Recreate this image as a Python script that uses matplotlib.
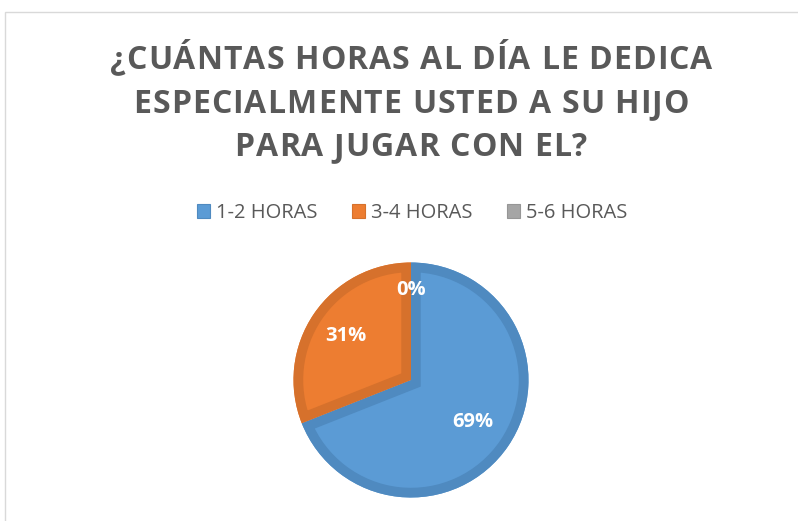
import numpy as np
import matplotlib

matplotlib.use('Agg')
import matplotlib.pyplot as plt
from matplotlib.patches import Patch, Rectangle
from matplotlib.font_manager import FontProperties, findfont, get_font

categories = ['1-2 HORAS', '3-4 HORAS', '5-6 HORAS']
values = [69, 31, 0]
fills = ['#5B9BD5', '#ED7D31', '#A5A5A5']
edges = ['#4F8AC0', '#D6712C', '#969696']
title_lines = ['¿CUÁNTAS HORAS AL DÍA LE DEDICA', 'ESPECIALMENTE USTED A SU HIJO', 'PARA JUGAR CON EL?']

W, H = 798, 521
fig = plt.figure(figsize=(W / 100, H / 100), dpi=100)
fig.patch.set_facecolor('white')

# marco gris del gráfico
fig.add_artist(Rectangle((5 / W, -0.05), 1.0, 1 - 12 / H + 0.05, transform=fig.transFigure,
                         fill=False, edgecolor='#D9D9D9', linewidth=1))

cx, cy = 411, H - 380
ax = fig.add_axes([(cx - 130) / W, (cy - 130) / H, 260 / W, 260 / H])

R = 1.175
shown = [v for v in values if v > 0]
fill_w, _ = ax.pie(shown, colors=fills[:len(shown)], startangle=90, counterclock=False,
                   radius=R, wedgeprops=dict(linewidth=0))
edge_w, _ = ax.pie(shown, colors=['none'] * len(shown), startangle=90, counterclock=False,
                   radius=R, wedgeprops=dict(linewidth=14, fill=False))
# borde interior, recortado a cada sector
for fw, ew, ec in zip(fill_w, edge_w, edges):
    ew.set_edgecolor(ec)
    ew.set_clip_on(True)
    ew.set_clip_path(fw)
ax.set_xlim(-1.3, 1.3)
ax.set_ylim(-1.3, 1.3)
ax.axis('off')

# etiquetas de porcentaje
total = sum(values)
start = 90.0
dists = [0.64, 0.67, 0.77]
for v, d in zip(values, dists):
    span = 360.0 * v / total
    mid = np.deg2rad(start - span / 2)
    ax.text(d * R * np.cos(mid), d * R * np.sin(mid), f'{v}%', ha='center', va='center',
            color='white', fontsize=14.5, fontweight='bold', family='Open Sans')
    start -= span

# título con espaciado entre letras (como en Excel)
TSIZE = 23
tprop = FontProperties(family='Open Sans', weight='bold', size=TSIZE)
font = get_font(findfont(tprop))
font.set_size(TSIZE, 100)


def advances(s):
    return [font.load_char(ord(c)).linearHoriAdvance / 65536 for c in s]


first = advances(title_lines[0])
track = (602 - sum(first)) / (len(title_lines[0]) - 1)
for line, base in zip(title_lines, [69, 113, 156]):
    adv = advances(line)
    total_w = sum(adv) + track * (len(line) - 1)
    x = cx - total_w / 2
    for c, a in zip(line, adv):
        fig.text(x / W, 1 - base / H, c, ha='left', va='baseline', fontproperties=tprop,
                 color='#595959')
        x += a + track

handles = [Patch(facecolor=f, edgecolor=e, linewidth=0.8) for f, e in zip(fills, edges)]
fig.legend(handles, categories, loc='center', bbox_to_anchor=(412 / W, 1 - 213 / H), ncol=3,
           frameon=False, handlelength=0.65, handleheight=0.65, handletextpad=0.3,
           columnspacing=1.7, prop=dict(family='Open Sans', size=14.5), labelcolor='#595959')

fig.savefig('out.png', dpi=100)
